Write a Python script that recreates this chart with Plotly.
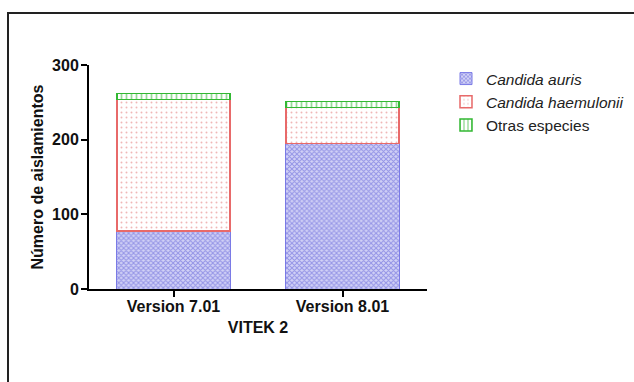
import plotly.graph_objects as go

# Identification results by VITEK 2 software version
versions = ["Version 7.01", "Version 8.01"]
candida_auris = [78, 195]
candida_haemulonii = [176, 48]
otras_especies = [8, 8]

FONT = "Arial, Liberation Sans, sans-serif"

W, H = 634, 382
L, R, T, B = 89, 207, 65, 93

fig = go.Figure()

fig.add_trace(go.Bar(
    x=versions, y=candida_auris, name="<i>Candida auris</i>",
    width=0.67,
    marker=dict(
        color="#5a5ae0",
        line=dict(color="#7a7ae6", width=1),
        pattern=dict(shape="x", size=3.5, solidity=0.5,
                     fgcolor="#5656d6", bgcolor="#d2d2f6", fillmode="overlay"),
    ),
))
fig.add_trace(go.Bar(
    x=versions, y=candida_haemulonii, name="<i>Candida haemulonii</i>",
    width=0.67,
    marker=dict(
        color="#ffffff",
        line=dict(color="#e86a6a", width=1.5),
        pattern=dict(shape=".", size=5, solidity=0.12,
                     fgcolor="#e07070", bgcolor="#ffffff", fillmode="overlay"),
    ),
))
fig.add_trace(go.Bar(
    x=versions, y=otras_especies, name="Otras especies",
    width=0.67,
    marker=dict(
        color="#ffffff",
        line=dict(color="#33b833", width=1.5),
        pattern=dict(shape="|", size=5, solidity=0.35,
                     fgcolor="#33b833", bgcolor="#ffffff", fillmode="overlay"),
    ),
))

pw = W - L - R
ph = H - T - B

# outer frame around the figure
fig.add_shape(
    type="rect", xref="paper", yref="paper",
    x0=(8 - L) / pw, x1=(W + 10 - L) / pw,
    y0=(H - B - (H + 10)) / ph, y1=(H - B - 13) / ph,
    line=dict(color="#222222", width=2), fillcolor="rgba(0,0,0,0)",
    layer="below",
)

fig.update_layout(
    width=W, height=H,
    margin=dict(l=L, r=R, t=T, b=B, autoexpand=False),
    barmode="stack",
    paper_bgcolor="white", plot_bgcolor="white",
    font=dict(family=FONT, size=16, color="#111111"),
    showlegend=True,
    legend=dict(
        x=(446 - L) / pw, y=(H - B - 62) / ph,
        xanchor="left", yanchor="top",
        font=dict(family=FONT, size=15.5, color="#222222"),
        bgcolor="rgba(0,0,0,0)", traceorder="normal",
        itemwidth=30,
    ),
    xaxis=dict(
        range=[-0.5, 1.5],
        showline=True, linecolor="black", linewidth=2,
        ticks="outside", ticklen=6, tickwidth=2, tickcolor="black",
        ticklabelstandoff=-4,
        tickfont=dict(family=FONT, size=16, color="#111111", weight="bold"),
        title=dict(text="<b>VITEK 2</b>", font=dict(family=FONT, size=16), standoff=8),
        showgrid=False, zeroline=False,
    ),
    yaxis=dict(
        range=[0, 300], tickvals=[0, 100, 200, 300],
        showline=True, linecolor="black", linewidth=2,
        ticks="outside", ticklen=6, tickwidth=2, tickcolor="black",
        ticklabelstandoff=-1,
        tickfont=dict(family=FONT, size=16, color="#111111", weight="bold"),
        title=dict(text="<b>Número de aislamientos</b>", font=dict(family=FONT, size=16), standoff=4),
        showgrid=False, zeroline=False,
    ),
)

fig.write_html("out.html")
